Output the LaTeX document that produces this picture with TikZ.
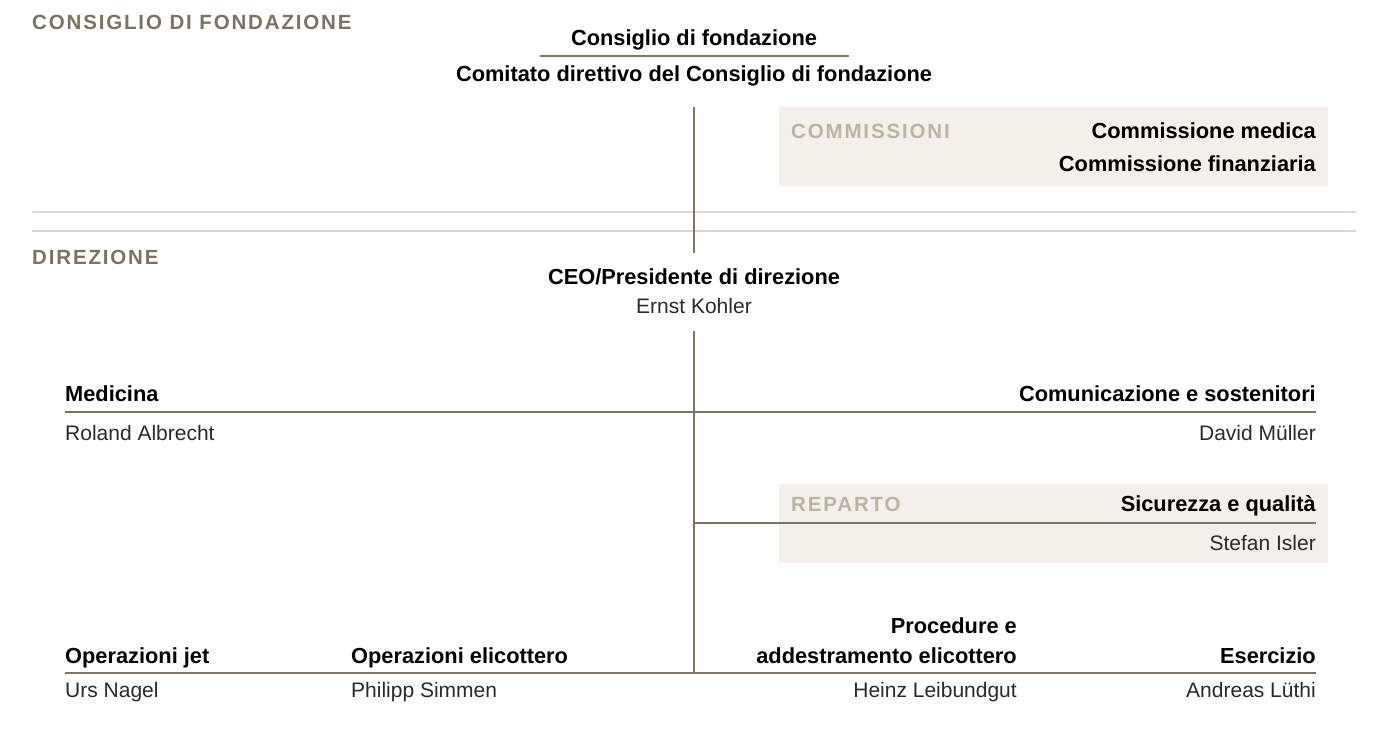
\documentclass[tikz,border=0pt]{standalone}
\usepackage{fontspec}
\setmainfont{Liberation Sans}
\newfontfamily\hdrfont[LetterSpace=9]{Liberation Sans}
\definecolor{hdr}{HTML}{7B7261}
\definecolor{hdrlight}{HTML}{BCB3A3}
\definecolor{boxfill}{HTML}{F3F0EB}
\definecolor{rulec}{HTML}{7D7464}
\definecolor{sepc}{HTML}{DDD8CC}
\definecolor{nmc}{HTML}{2A2A2A}
\begin{document}
\begin{tikzpicture}[x=1pt,y=-1pt,
  hdr/.style={font=\hdrfont\bfseries\fontsize{20.5}{24}\selectfont, text=hdr, inner sep=0, anchor=base west},
  hdrl/.style={hdr, text=hdrlight},
  ttl/.style={font=\bfseries\fontsize{21.8}{30}\selectfont, text=black, inner sep=0},
  nm/.style={font=\fontsize{21}{25}\selectfont, text=nmc, inner sep=0},
  conn/.style={draw=rulec, line width=1.5pt},
  sep/.style={draw=sepc, line width=2.5pt},
  panel/.style={fill=boxfill, draw=none, inner sep=0, anchor=north west}]
\useasboundingbox (0,0) rectangle (1373,747);
\fill[white] (0,0) rectangle (1373,747);

% panels
\node[panel, minimum width=549pt, minimum height=79pt] (companel) at (779,107) {};
\node[panel, minimum width=549pt, minimum height=79pt] (reppanel) at (779,484) {};

% separator
\coordinate (s1a) at (32,212); \coordinate (s1b) at (1356,212);
\coordinate (s2a) at (32,231); \coordinate (s2b) at (1356,231);
\draw[sep] (s1a) -- (s1b);
\draw[sep] (s2a) -- (s2b);

% section headers
\node[hdr] (hcons) at (32,29) {CONSIGLIO DI FONDAZIONE};
\node[hdr] (hdir) at (32,264) {DIREZIONE};
\node[hdrl] (hcom) at (791,138) {COMMISSIONI};
\node[hdrl] (hrep) at (791,511) {REPARTO};

% foundation board
\node[ttl, anchor=base] (cons) at (694,45) {Consiglio di fondazione};
\coordinate (consL) at (540,56);
\coordinate (consR) at (849,56);
\draw[conn] (consL) -- (consR);
\node[ttl, anchor=base] (comit) at (694,81) {Comitato direttivo del Consiglio di fondazione};
\node[ttl, anchor=base east] (cmed) at (1316,138) {Commissione medica};
\node[ttl, anchor=base east] (cfin) at (1316,171) {Commissione finanziaria};

\coordinate (v1a) at (694,107);
\coordinate (v1b) at (694,253);
\draw[conn] (v1a) -- (v1b);

% CEO
\node[ttl, anchor=base] (ceo) at (694,284) {CEO/Presidente di direzione};
\node[nm, anchor=base] (ceon) at (694,313) {Ernst Kohler};

\coordinate (v2a) at (694,331);
\coordinate (v2b) at (694,673);
\draw[conn] (v2a) -- (v2b);

% Medicina / Comunicazione
\node[ttl, anchor=base west] (med) at (65,401) {Medicina};
\node[nm, anchor=base west] (medn) at (65,440) {Roland Albrecht};
\node[ttl, anchor=base east] (com) at (1316,401) {Comunicazione e sostenitori};
\node[nm, anchor=base east] (comn) at (1316,440) {David Müller};
\coordinate (l1a) at (65,412);
\coordinate (l1b) at (1316,412);
\draw[conn] (l1a) -- (l1b);

% Sicurezza
\node[ttl, anchor=base east] (sic) at (1316,511) {Sicurezza e qualità};
\node[nm, anchor=base east] (sicn) at (1316,550) {Stefan Isler};
\coordinate (l2a) at (694,523);
\coordinate (l2b) at (1316,523);
\draw[conn] (l2a) -- (l2b);

% bottom row
\node[ttl, anchor=base west] (ojet) at (65,663) {Operazioni jet};
\node[nm, anchor=base west] (ojetn) at (65,697) {Urs Nagel};
\node[ttl, anchor=base west] (oeli) at (351,663) {Operazioni elicottero};
\node[nm, anchor=base west] (oelin) at (351,697) {Philipp Simmen};
\node[ttl, anchor=base east] (proc1) at (1017,633) {Procedure e};
\node[ttl, anchor=base east] (proc2) at (1017,663) {addestramento elicottero};
\node[nm, anchor=base east] (procn) at (1017,697) {Heinz Leibundgut};
\node[ttl, anchor=base east] (ese) at (1316,663) {Esercizio};
\node[nm, anchor=base east] (esen) at (1316,697) {Andreas Lüthi};
\coordinate (l3a) at (65,673);
\coordinate (l3b) at (1316,673);
\draw[conn] (l3a) -- (l3b);
\end{tikzpicture}
\end{document}
